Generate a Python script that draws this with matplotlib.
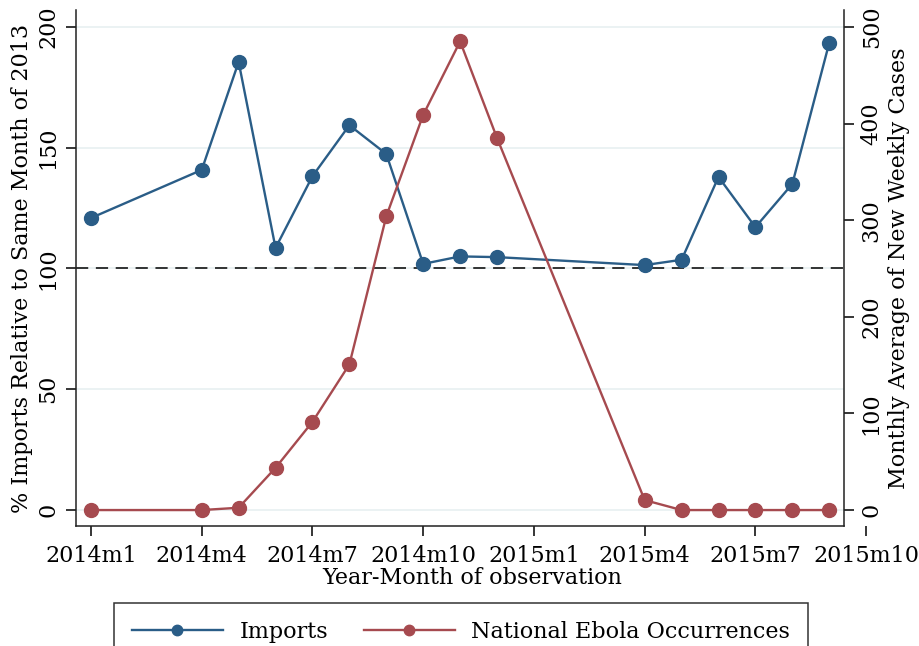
import matplotlib
matplotlib.use("Agg")
import matplotlib.pyplot as plt
import numpy as np

plt.rcParams['font.family'] = ['DejaVu Serif']

# data
months = ["2014m1", "2014m4", "2014m5", "2014m6", "2014m7", "2014m8", "2014m9",
          "2014m10", "2014m11", "2014m12", "2015m4", "2015m5", "2015m6",
          "2015m7", "2015m8", "2015m9"]
imports = [120.9, 140.8, 185.5, 108.5, 138.2, 159.3, 147.4, 101.9, 105.0,
           104.7, 101.4, 103.6, 137.9, 117.1, 135.0, 193.4]
ebola = [0, 0, 2.4, 43.7, 91.3, 150.7, 304, 409, 485, 385, 10.3, 0, 0, 0, 0, 0]

tick_labels = ["2014m1", "2014m4", "2014m7", "2014m10", "2015m1", "2015m4",
               "2015m7", "2015m10"]
left_ticks = [0, 50, 100, 150, 200]
right_ticks = [0, 100, 200, 300, 400, 500]


def month_index(s):
    y, m = s.split("m")
    return (int(y) - 2014) * 12 + int(m) - 1


x = np.array([month_index(m) for m in months])
xt = [month_index(t) for t in tick_labels]

blue = "#2a5d87"
red = "#a64a4f"
grid_c = "#e9f1f2"
fs = 16

x_left, x_right, x_max = -0.406, 20.40, 21.05

fig = plt.figure(figsize=(9.19, 6.46), dpi=100)
ax = fig.add_axes([76/919, 1-526/646, (868-76)/919, (526-10)/646])
ax.set_xlim(x_left, x_max)
ax.set_ylim(-6.6, 207)

ax.hlines(left_ticks, x_left, x_right, color=grid_c, lw=1.3, zorder=0)
ax.hlines(100, x_left, x_right, color="black", lw=1.1,
          linestyles=(0, (8, 5)), zorder=1)

ax.plot(x, imports, color=blue, lw=1.7, marker="o", ms=10, zorder=3,
        label="Imports")

ax2 = ax.twinx()
ax2.set_ylim(-16.5, 517.5)
ax2.plot(x, ebola, color=red, lw=1.7, marker="o", ms=10, zorder=3,
         label="National Ebola Occurrences")

for s in ["top", "right"]:
    ax.spines[s].set_visible(False)
for s in ["top", "left", "bottom"]:
    ax2.spines[s].set_visible(False)
ax.spines["bottom"].set_bounds(x_left, x_right)
ax2.spines["right"].set_position(("data", x_right))
for sp in [ax.spines["left"], ax.spines["bottom"], ax2.spines["right"]]:
    sp.set_linewidth(1.1)
    sp.set_color("#222222")

ax.set_xticks(xt)
ax.set_xticklabels(tick_labels)
ax.set_yticks(left_ticks)
ax2.set_yticks(right_ticks)
ax.tick_params(axis="x", length=7, width=1.1, pad=7, labelsize=fs)
ax.tick_params(axis="y", length=7, width=1.1, pad=5, labelsize=fs,
               labelrotation=90)
ax2.tick_params(axis="y", length=7, width=1.1, pad=5, labelsize=fs,
                labelrotation=90)
for lab in ax.get_yticklabels() + ax2.get_yticklabels():
    lab.set_va("center")

ax.set_xlabel("Year-Month of observation", fontsize=fs, labelpad=0)
ax.set_ylabel("% Imports Relative to Same Month of 2013", fontsize=fs,
              labelpad=3)
ax2.set_ylabel("Monthly Average of New Weekly Cases", fontsize=fs,
               labelpad=4)

h1, l1 = ax.get_legend_handles_labels()
h2, l2 = ax2.get_legend_handles_labels()
leg = fig.legend(h1 + h2, l1 + l2, loc="upper center",
                 bbox_to_anchor=(461/919, 1-603/646), ncol=2, fontsize=fs,
                 frameon=True, fancybox=False, edgecolor="black",
                 handlelength=4.1, handletextpad=0.75, columnspacing=1.6,
                 borderpad=0.8, borderaxespad=0, markerscale=0.75)
leg.get_frame().set_linewidth(1.1)

fig.savefig("out.png", dpi=100)
